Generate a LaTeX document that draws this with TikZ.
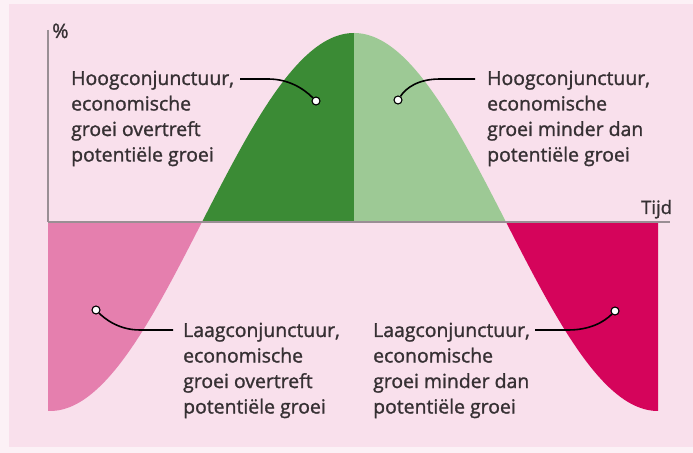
\documentclass[tikz,border=0pt]{standalone}
\usepackage{fontspec}
\setmainfont{Open Sans}
\newfontfamily\lblfont{Open Sans}[FakeBold=1.3]
\definecolor{bgouter}{HTML}{FCF1F6}
\definecolor{bginner}{HTML}{F9E0EC}
\definecolor{dkgreen}{HTML}{3B8B35}
\definecolor{ltgreen}{HTML}{9DC995}
\definecolor{ltpink}{HTML}{E57FAE}
\definecolor{crimson}{HTML}{D5045B}
\definecolor{axisgray}{HTML}{9A8E94}
\definecolor{txt}{HTML}{363033}
\begin{document}
\begin{tikzpicture}[x=1bp,y=-1bp,
  lbl/.style={anchor=base west,inner sep=0pt,text=txt,font=\lblfont\fontsize{19.5}{22}\selectfont},
  dot/.style={circle,draw=black,fill=white,line width=1.1pt,inner sep=0pt,minimum size=8bp},
  callout/.style={draw=black,line width=1.6pt},
  axisline/.style={draw=axisgray,line width=1.3pt}]
\useasboundingbox (0,0) rectangle (693,453);
\fill[bgouter] (0,0) rectangle (693,453);
\fill[bginner] (9,4) rectangle (693,447);
% filled areas
\fill[ltpink] (48,222) -- plot[domain=48:202,samples=60] (\x,{222-189*cos(0.592105*(\x-354))}) -- cycle;
\fill[dkgreen] (202,222) -- plot[domain=202:354,samples=60] (\x,{222-189*cos(0.592105*(\x-354))}) -- (354,222) -- cycle;
\fill[ltgreen] (354,222) -- plot[domain=354:506,samples=60] (\x,{222-189*cos(0.592105*(\x-354))}) -- cycle;
\fill[crimson] (506,222) -- plot[domain=506:658,samples=60] (\x,{222-189*cos(0.592105*(\x-354))}) -- (658,222) -- cycle;
% axes
\coordinate (ytop) at (48,30);
\coordinate (orig) at (48,222);
\coordinate (xend) at (670,222);
\draw[axisline] (ytop) -- (orig);
\draw[axisline] (orig) -- (xend);
\node[lbl,font=\lblfont\fontsize{20}{22}\selectfont] (pct) at (52,38) {\%};
\node[lbl,font=\lblfont\fontsize{18.5}{20}\selectfont] (tijd) at (641,214) {Tijd};
% top-left text
\node[lbl] (a1) at (71,85) {Hoogconjunctuur,};
\node[lbl] (a2) at (71,110.5) {economische};
\node[lbl] (a3) at (71,136) {groei overtreft};
\node[lbl] (a4) at (71,161.5) {potentiële groei};
% top-right text
\node[lbl] (b1) at (487,85) {Hoogconjunctuur,};
\node[lbl] (b2) at (487,110.5) {economische};
\node[lbl] (b3) at (487,136) {groei minder dan};
\node[lbl] (b4) at (487,161.5) {potentiële groei};
% bottom-left text
\node[lbl] (c1) at (183,337) {Laagconjunctuur,};
\node[lbl] (c2) at (183,362.5) {economische};
\node[lbl] (c3) at (183,388) {groei overtreft};
\node[lbl] (c4) at (183,413.5) {potentiële groei};
% bottom-right text
\node[lbl] (d1) at (373,337) {Laagconjunctuur,};
\node[lbl] (d2) at (373,362.5) {economische};
\node[lbl] (d3) at (373,388) {groei minder dan};
\node[lbl] (d4) at (373,413.5) {potentiële groei};
% dots
\node[dot] (pa) at (316,101) {};
\node[dot] (pb) at (398,100) {};
\node[dot] (pc) at (96,310) {};
\node[dot] (pd) at (615,311) {};
% callout start points
\coordinate (sa) at (240,79);
\coordinate (sb) at (475,79);
\coordinate (sc) at (173,330);
\coordinate (sd) at (535,330);
\draw[callout] (sa) -- (268,79) .. controls (288,79) and (303,88) .. (pa);
\draw[callout] (sb) -- (440,79) .. controls (418,79) and (406,88) .. (pb);
\draw[callout] (sc) -- (140,330) .. controls (118,330) and (104,318) .. (pc);
\draw[callout] (sd) -- (568,330) .. controls (590,330) and (604,322) .. (pd);
\end{tikzpicture}
\end{document}
